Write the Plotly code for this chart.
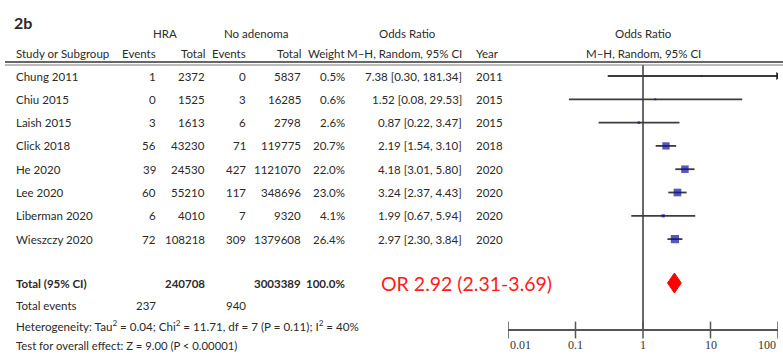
import math
import plotly.graph_objects as go

# ---- study data -------------------------------------------------------------
studies = ["Chung 2011", "Chiu 2015", "Laish 2015", "Click 2018",
           "He 2020", "Lee 2020", "Liberman 2020", "Wieszczy 2020"]
hra_events = [1, 0, 3, 56, 39, 60, 6, 72]
hra_total = [2372, 1525, 1613, 43230, 24530, 55210, 4010, 108218]
noad_events = [0, 3, 6, 71, 427, 117, 7, 309]
noad_total = [5837, 16285, 2798, 119775, 1121070, 348696, 9320, 1379608]
weight = [0.5, 0.6, 2.6, 20.7, 22.0, 23.0, 4.1, 26.4]
or_est = [7.38, 1.52, 0.87, 2.19, 4.18, 3.24, 1.99, 2.97]
ci_lo = [0.30, 0.08, 0.22, 1.54, 3.01, 2.37, 0.67, 2.30]
ci_hi = [181.34, 29.53, 3.47, 3.10, 5.80, 4.43, 5.94, 3.84]
years = [2011, 2015, 2015, 2018, 2020, 2020, 2020, 2020]

total_hra = 240708
total_noad = 3003389
total_weight = 100.0
events_hra = 237
events_noad = 940
pooled_or = 2.92
pooled_lo = 2.31
pooled_hi = 3.69

heterogeneity = "Heterogeneity: Tau<sup>2</sup> = 0.04; Chi<sup>2</sup> = 11.71, df = 7 (P = 0.11); I<sup>2</sup> = 40%"
overall_test = "Test for overall effect: Z = 9.00 (P < 0.00001)"

tick_vals = [0.01, 0.1, 1, 10, 100]
tick_text = ["0.01", "0.1", "1", "10", "100"]

# ---- layout constants (pixel grid of the page) --------------------------------
W, H = 783, 363
FONT = "Lato, Liberation Sans, sans-serif"
TXT = "#2a2a2a"
ROW0, STEP = 76, 23.3
rows_y = [ROW0 + i * STEP for i in range(len(studies))]
TOTAL_Y = 283
AXIS_Y = 330
TICKLABEL_Y = 345
X_MIN, X_MAX = 0.01, 100
PLOT_L, PLOT_R = 508, 778

fig = go.Figure()


def px(x):
    return x / W


def text(x, y, s, anchor="left", size=11.5, color=TXT, bold=False, family=FONT):
    if bold:
        s = "<b>" + s + "</b>"
    fig.add_annotation(x=px(x), y=y, xref="paper", yref="y",
                       text=s, showarrow=False, xanchor=anchor, yanchor="middle",
                       font=dict(family=family, size=size, color=color))


# headers
text(12, 22, "2b", size=16, bold=True)
text(165, 33, "HRA", anchor="center")
text(256, 33, "No adenoma", anchor="center")
text(408, 33, "Odds Ratio", anchor="center")
text(643, 33, "Odds Ratio", anchor="center")
text(14, 53, "Study or Subgroup")
text(158, 53, "Events", anchor="right")
text(207, 53, "Total", anchor="right")
text(248, 53, "Events", anchor="right")
text(303, 53, "Total", anchor="right")
text(347, 53, "Weight", anchor="right")
text(464, 53, "M\u2013H, Random, 95% CI", anchor="right")
text(474, 53, "Year")
text(643, 53, "M\u2013H, Random, 95% CI", anchor="center")

# double rule beneath the header
fig.add_shape(type="line", xref="paper", yref="y", x0=px(5), x1=1, y0=62, y1=62,
              line=dict(color="#333", width=1.5))
fig.add_shape(type="line", xref="paper", yref="y", x0=px(5), x1=1, y0=65, y1=65,
              line=dict(color="#777", width=1))

# study rows
for i, name in enumerate(studies):
    y = rows_y[i]
    text(14, y, name)
    text(158, y, str(hra_events[i]), anchor="right")
    text(207, y, str(hra_total[i]), anchor="right")
    text(248, y, str(noad_events[i]), anchor="right")
    text(303, y, str(noad_total[i]), anchor="right")
    text(347, y, f"{weight[i]:.1f}%", anchor="right")
    text(464, y, f"{or_est[i]:.2f} [{ci_lo[i]:.2f}, {ci_hi[i]:.2f}]", anchor="right")
    text(474, y, str(years[i]))

# total rows
text(14, TOTAL_Y, "Total (95% CI)", bold=True)
text(207, TOTAL_Y, str(total_hra), anchor="right", bold=True)
text(303, TOTAL_Y, str(total_noad), anchor="right", bold=True)
text(347, TOTAL_Y, f"{total_weight:.1f}%", anchor="right", bold=True)
text(379, TOTAL_Y, f"OR {pooled_or:.2f} ({pooled_lo:.2f}-{pooled_hi:.2f})",
     size=19.5, color="#ff1a1a")
text(14, 305, "Total events")
text(158, 305, str(events_hra), anchor="right")
text(248, 305, str(events_noad), anchor="right")
text(14, 325, heterogeneity, size=11.6)
text(14, 345, overall_test, size=11.3)

# line of no effect
fig.add_trace(go.Scatter(x=[1, 1], y=[65, AXIS_Y], mode="lines",
                         line=dict(color="#6a6a6a", width=2),
                         hoverinfo="skip", showlegend=False))

# confidence intervals (clipped at the axis limits)
for i in range(len(studies)):
    lo = max(ci_lo[i], X_MIN)
    hi = min(ci_hi[i], X_MAX)
    fig.add_trace(go.Scatter(x=[lo, hi], y=[rows_y[i], rows_y[i]], mode="lines",
                             line=dict(color="#3c3c3c", width=1.8),
                             hoverinfo="skip", showlegend=False))
    if ci_hi[i] > X_MAX:
        fig.add_trace(go.Scatter(x=[X_MAX], y=[rows_y[i]], mode="markers",
                                 marker=dict(symbol="triangle-right", size=7, color="#222"),
                                 hoverinfo="skip", showlegend=False))
    if ci_lo[i] < X_MIN:
        fig.add_trace(go.Scatter(x=[X_MIN], y=[rows_y[i]], mode="markers",
                                 marker=dict(symbol="triangle-left", size=7, color="#222"),
                                 hoverinfo="skip", showlegend=False))

# point estimates, square area proportional to weight
sizes = [max(2.0, 1.6 * math.sqrt(w)) for w in weight]
fig.add_trace(go.Scatter(x=or_est, y=rows_y, mode="markers",
                         marker=dict(symbol="square", size=sizes, color="#1010a0",
                                     line=dict(width=0)),
                         hoverinfo="skip", showlegend=False))

# pooled estimate diamond
half_h = 10
fig.add_trace(go.Scatter(x=[pooled_lo, pooled_or, pooled_hi, pooled_or, pooled_lo],
                         y=[TOTAL_Y, TOTAL_Y - half_h, TOTAL_Y, TOTAL_Y + half_h, TOTAL_Y],
                         mode="lines", fill="toself", fillcolor="#ff0000",
                         line=dict(color="#ff0000", width=1),
                         hoverinfo="skip", showlegend=False))

# axis tick marks crossing the axis line
fig.add_trace(go.Scatter(x=tick_vals, y=[AXIS_Y] * len(tick_vals), mode="markers",
                         marker=dict(symbol="line-ns-open", size=12, color="#555",
                                     line=dict(color="#555", width=1.5)),
                         hoverinfo="skip", showlegend=False))

# tick labels: end labels sit inside the axis span
for k, (v, t) in enumerate(zip(tick_vals, tick_text)):
    anchor = "left" if k == 0 else ("right" if k == len(tick_vals) - 1 else "center")
    fig.add_annotation(x=math.log10(v), y=TICKLABEL_Y, xref="x", yref="y", text=t,
                       showarrow=False, xanchor=anchor, yanchor="middle",
                       font=dict(family="Liberation Serif, serif", size=12, color="#333"))

fig.update_layout(
    width=W, height=H,
    margin=dict(l=0, r=0, t=0, b=0),
    paper_bgcolor="white", plot_bgcolor="rgba(0,0,0,0)",
    xaxis=dict(type="log", range=[math.log10(X_MIN), math.log10(X_MAX)],
               domain=[px(PLOT_L), px(PLOT_R)],
               anchor="free", position=1 - AXIS_Y / H,
               showline=True, linecolor="#555", linewidth=1.5,
               showgrid=False, zeroline=False, ticks="", showticklabels=False),
    yaxis=dict(range=[H, 0], domain=[0, 1], visible=False, fixedrange=True),
    showlegend=False,
)

fig.write_html("out.html")
